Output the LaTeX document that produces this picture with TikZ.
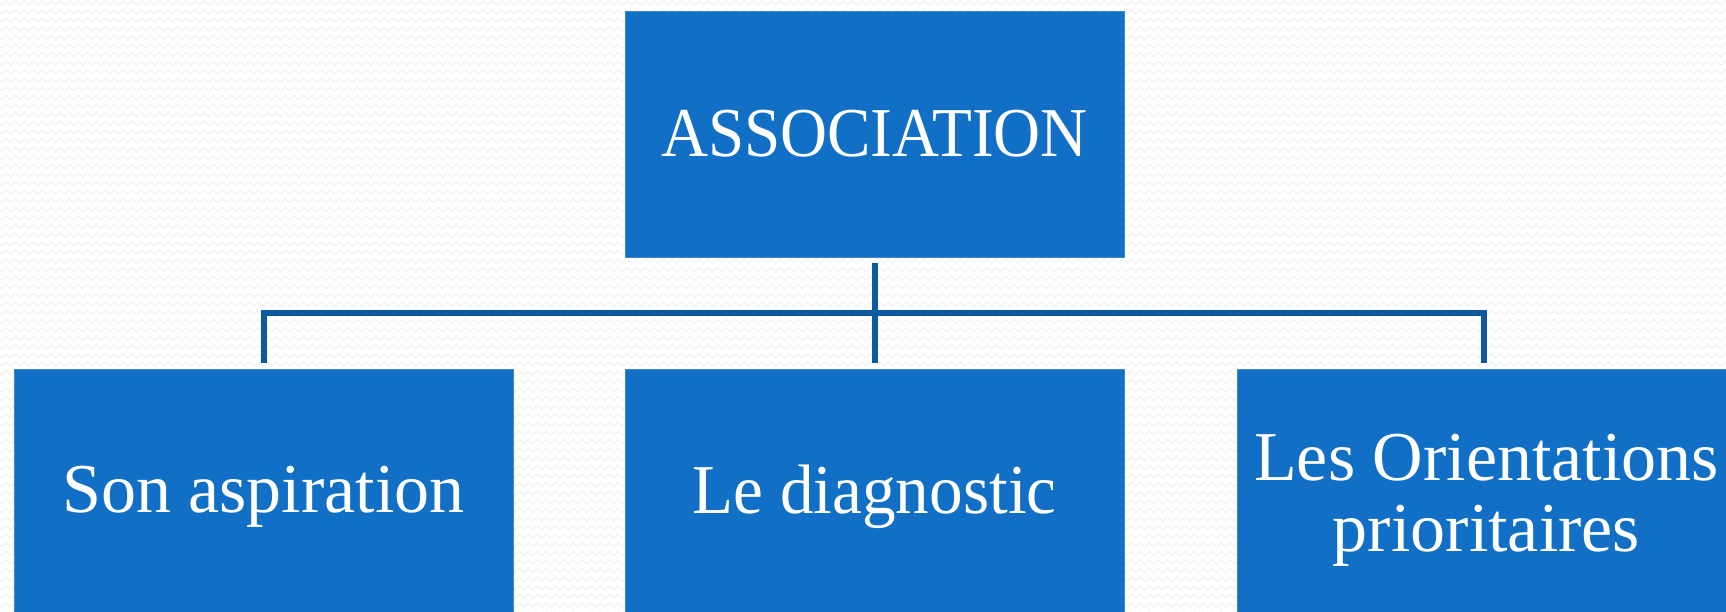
\documentclass[tikz,border=0pt]{standalone}
\usepackage{fontspec}
\setmainfont{Liberation Serif}
\usetikzlibrary{decorations.pathmorphing,calc}
\definecolor{boxblue}{HTML}{1170C5}
\definecolor{boxedge}{HTML}{3A88D0}
\definecolor{linkblue}{HTML}{0B599F}
\definecolor{bgline}{HTML}{F3F3F3}
\tikzset{
  orgbox/.style={rectangle, fill=boxblue, draw=boxedge, line width=1pt, inner sep=0pt, outer sep=0pt,
    text=white, align=center, font=\fontsize{70}{71}\selectfont, anchor=north west, minimum width=499pt},
  link/.style={draw=linkblue, line width=6pt, line join=miter},
  bgz/.style={draw=bgline, line width=1.2pt, decorate, decoration={zigzag, segment length=9pt, amplitude=2pt}}
}
\begin{document}
\begin{tikzpicture}[x=1pt,y=-1pt]
\useasboundingbox (0,0) rectangle (1726,611);
\fill[white] (0,0) rectangle (1726,611);
\begin{scope}
\clip (0,0) rectangle (1726,611);
\foreach \r in {0,...,71} { \draw[bgz] (-5,{\r*8.6+3}) -- (1735,{\r*8.6+3}); }
\node[orgbox, minimum height=246pt] (top) at (625,11) {\scalebox{0.93}[1]{ASSOCIATION}};
\node[orgbox, minimum height=256pt] (b1) at (14,369) {Son aspiration};
\node[orgbox, minimum height=256pt] (b2) at (625,369) {\scalebox{0.96}[1]{Le diagnostic}};
\node[orgbox, minimum height=262pt] (b3) at (1237,369) {Les Orientations\\prioritaires};
\end{scope}
\coordinate (jl) at ($(b1.north)+(0,-56)$);
\coordinate (jr) at ($(b3.north)+(-2.5,-56)$);
\draw[link] ($(top.south)+(0,6)$) -- ($(b2.north)+(0,-6)$);
\draw[link] ($(b1.north)+(0,-6)$) -- (jl) -- (jr) -- ($(b3.north)+(-2.5,-6)$);
\end{tikzpicture}
\end{document}
